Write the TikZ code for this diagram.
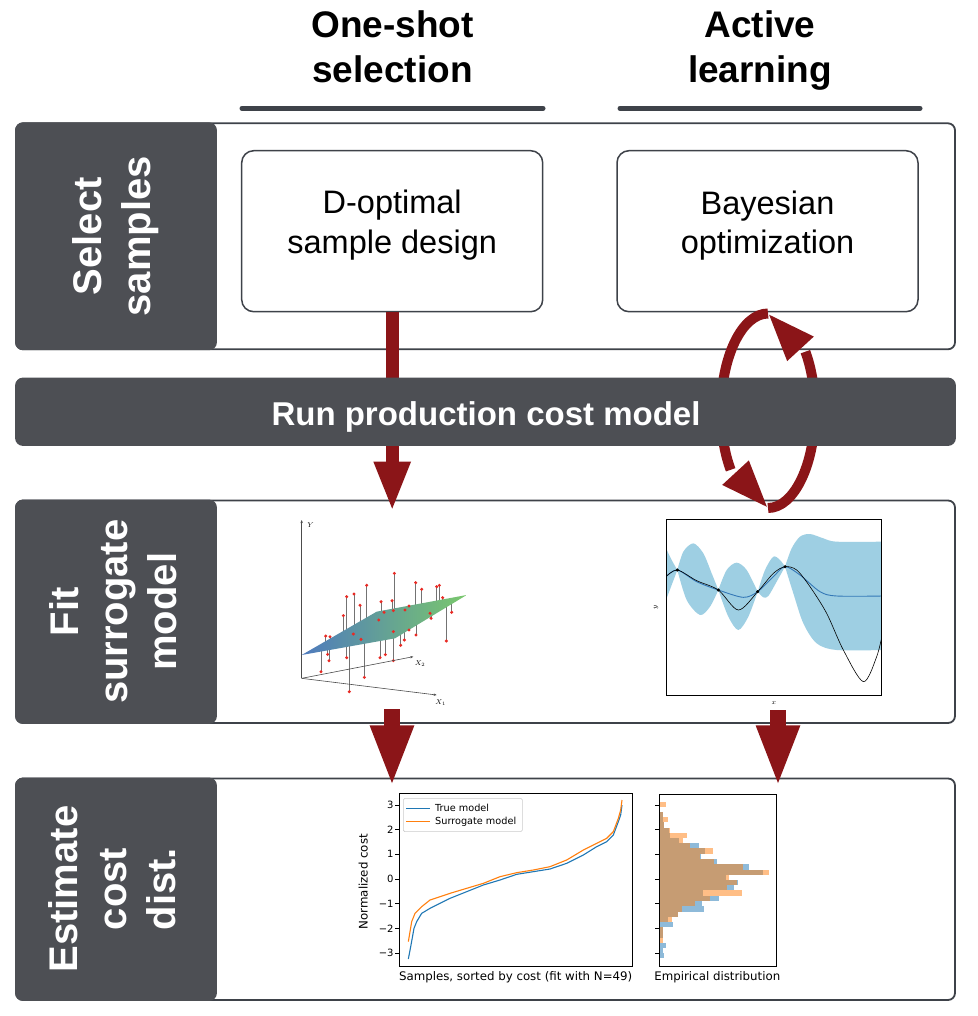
\documentclass[tikz,border=0pt]{standalone}
\usepackage{fontspec}
\setmainfont{Liberation Sans}
\newfontfamily\plotfont{DejaVu Sans}
\usetikzlibrary{arrows.meta,bending}
\definecolor{tagfill}{RGB}{77,79,84}
\definecolor{framegray}{RGB}{62,66,73}
\definecolor{flowred}{RGB}{139,21,24}
\definecolor{bandblue}{RGB}{158,207,227}
\definecolor{meanblue}{RGB}{52,120,183}
\definecolor{mplblue}{RGB}{31,119,180}
\definecolor{mplorange}{RGB}{255,127,14}
\definecolor{dotred}{RGB}{232,42,36}
\definecolor{planeblue}{RGB}{78,122,190}
\definecolor{planegreen}{RGB}{122,200,108}
\begin{document}
\begin{tikzpicture}[x=1pt,y=-1pt,
  rowframe/.style={draw=framegray,line width=1.8pt,fill=white,rounded corners=7pt},
  rowtag/.style={draw=tagfill,fill=tagfill,line width=1.8pt,rounded corners=7pt},
  tagtext/.style={text=white,font=\fontsize{40}{49}\selectfont\bfseries,rotate=90,align=center,inner sep=0pt},
  methodbox/.style={draw=framegray,line width=1.5pt,fill=white,rounded corners=12pt,minimum width=301pt,minimum height=161pt,inner sep=0pt},
  methodtext/.style={font=\fontsize{32.5}{39.5}\selectfont,align=center,inner sep=0pt},
  headtext/.style={font=\fontsize{37}{45}\selectfont\bfseries,align=center,inner sep=0pt},
  headrule/.style={draw=framegray,line width=5pt,line cap=round},
  flow/.style={draw=flowred,line width=#1},
  stem/.style={draw=black!55,line width=0.55pt},
  axis3d/.style={draw=black!70,line width=0.6pt,-{Stealth[length=3pt,width=2.4pt]}},
  mathlabel/.style={font=\fontsize{7.5}{9}\selectfont,inner sep=0pt},
  tickfont/.style={font=\plotfont\fontsize{10}{12}\selectfont,inner sep=1.5pt},
  axisfont/.style={font=\plotfont\fontsize{11.8}{14}\selectfont,inner sep=0pt},
  legendfont/.style={font=\plotfont\fontsize{9.7}{12}\selectfont,inner sep=0pt,anchor=west}]
\useasboundingbox (0,0) rectangle (977,1016);

% column headers
\node[headtext] (oneshot) at (392.5,47) {One-shot\\selection};
\node[headtext] (active) at (760,51) {Active\\learning};
\draw[headrule] (242,108.3) -- (543,108.3);
\draw[headrule] (620,108.3) -- (920,108.3);

% rows
\draw[rowframe] (16,123.3) rectangle (955,349.3);
\draw[rowtag] (16,123.3) rectangle (216,349.3);
\node[tagtext] (seltag) at (116,236.3) {Select\\samples};
\draw[rowframe] (16,500.5) rectangle (955,723);
\draw[rowtag] (16,500.5) rectangle (216,723);
\node[tagtext] (fittag) at (113.5,611.7) {Fit\\surrogate\\model};
\draw[rowframe] (16,778.5) rectangle (955,1000);
\draw[rowtag] (16,778.5) rectangle (216,1000);
\node[tagtext] (esttag) at (112,889) {Estimate\\cost\\dist.};

\node[methodbox] (dopt) at (392.2,231.2) {};
\node[methodtext] (dopttext) at (392.2,225.2) {D-optimal\\sample design};
\node[methodbox] (bayes) at (767.5,231.2) {};
\node[methodtext] (bayestext) at (767.5,225.4) {Bayesian\\optimization};

% regression plane
\begin{scope}[shift={(280,510)},scale=1/3]
\foreach \px/\py in {123/485,137/378,150/380,143/433,147/452,190/317,200/260,200/443,208/545,222/252,220/372,240/286,243/388,253/502,260/226,296/330,300/443,303/275,316/434,312/307,336/272,343/190,340/302,340/365,340/452,362/406,373/390,375/300,387/288,387/360,407/218,408/375,425/238,450/310,453/325,470/230,478/226,488/263,499/393,515/307}{
  \draw[stem] (\px,\py) -- (\px,{420-0.33*(\px-65)});}
\shade[left color=planeblue,right color=planegreen] (65,435) -- (290,305) -- (560,255) -- (345,385) -- cycle;
\foreach \px/\py in {123/485,137/378,150/380,143/433,147/452,190/317,200/260,200/443,208/545,222/252,220/372,240/286,243/388,253/502,260/226,296/330,300/443,303/275,316/434,312/307,336/272,343/190,340/302,340/365,340/452,362/406,373/390,375/300,387/288,387/360,407/218,408/375,425/238,450/310,453/325,470/230,478/226,488/263,499/393,515/307}{
  \fill[dotred] (\px,\py) circle[radius=5];}
\draw[axis3d] (65,505) -- (65,30);
\draw[axis3d] (65,505) -- (470,555);
\draw[axis3d] (65,505) -- (400,440);
\node[mathlabel] (ylab) at (92,45) {$Y$};
\node[mathlabel] (xtwolab) at (420,462) {$X_2$};
\node[mathlabel] (xonelab) at (482,578) {$X_1$};
\end{scope}

% gaussian process
\begin{scope}[shift={(650,510)},scale=1/3]
\begin{scope}
\clip (48,28) rectangle (695,557);
\fill[bandblue] plot[smooth] coordinates {(48,115) (65,150) (82,180)}
  -- plot[smooth] coordinates {(82,180) (100,125) (130,100) (160,130) (185,190) (205,240)}
  -- plot[smooth] coordinates {(205,240) (230,180) (260,158) (290,180) (323,245)}
  -- plot[smooth] coordinates {(323,245) (345,180) (370,140) (390,150) (405,170)}
  -- plot[smooth] coordinates {(405,170) (425,115) (450,80) (480,72) (520,85) (560,95) (700,95)}
  -- (700,420)
  -- plot[smooth] coordinates {(700,420) (560,420) (500,400) (460,340) (430,250) (405,170)}
  -- plot[smooth] coordinates {(405,170) (380,215) (355,258) (340,262) (323,245)}
  -- plot[smooth] coordinates {(323,245) (295,320) (265,360) (235,320) (205,240)}
  -- plot[smooth] coordinates {(205,240) (180,290) (150,315) (110,270) (82,180)}
  -- plot[smooth] coordinates {(82,180) (65,225) (48,270)} -- cycle;
\draw[meanblue,line width=0.9pt] plot[smooth] coordinates {(48,200) (82,180) (140,215) (205,240) (280,262) (323,245) (370,200) (405,170) (450,195) (510,245) (560,258) (700,258)};
\draw[black,line width=0.6pt] plot[smooth] coordinates {(48,200) (82,180) (140,212) (205,240) (265,300) (323,245) (370,190) (405,170) (440,180) (480,230) (530,310) (580,420) (640,515) (680,440) (700,360)};
\end{scope}
\foreach \px/\py in {82/180,205/240,323/245,405/170}{
  \fill[black] (\px,\py) circle[radius=5];}
\draw[black,line width=0.6pt] (48,28) rectangle (695,557);
\node[mathlabel,rotate=90] (gpylab) at (18,293) {$y$};
\node[mathlabel] (gpxlab) at (372,578) {$x$};
\end{scope}

% sorted costs
\begin{scope}[shift={(350,785)},scale=1/3]
\draw[black,line width=0.6pt] (148,25) rectangle (848,545);
\foreach \ty/\lab in {60/3,133/2,208/1,282/0,356/−1,430/−2,505/−3}{
  \draw[black,line width=0.6pt] (148,\ty) -- (136,\ty) node[tickfont,left] (tick\ty) {\lab};}
\draw[mplblue,line width=1.1pt] plot coordinates {(175,522) (183,480) (192,430) (200,410) (215,385) (240,370) (270,355) (300,340) (350,320) (400,300) (450,285) (500,268) (550,260) (600,252) (650,235) (700,210) (740,185) (770,170) (790,150) (805,110) (812,90) (816,60)};
\draw[mplorange,line width=1.1pt] plot coordinates {(175,470) (180,440) (185,410) (195,385) (215,365) (240,345) (270,335) (300,325) (350,310) (400,295) (450,275) (500,263) (550,255) (600,245) (650,225) (700,195) (740,175) (770,160) (790,140) (805,100) (812,75) (816,45)};
\draw[black!20,fill=white,line width=0.6pt,rounded corners=1.5pt] (160,40) rectangle (517,140);
\draw[mplblue,line width=1.3pt] (168,70) -- (240,70);
\node[legendfont] (truelab) at (255,70) {True model};
\draw[mplorange,line width=1.3pt] (168,110) -- (240,110);
\node[legendfont] (surrlab) at (255,110) {Surrogate model};
\node[axisfont,rotate=90] (costlab) at (40,290) {Normalized cost};
\node[axisfont] (samplab) at (497,578) {Samples, sorted by cost (fit with N=49)};
\end{scope}

% histogram
\begin{scope}[shift={(640,785)},scale=1/3]
\foreach \ya/\yb/\wb/\wo in {50/65/58/78,80/96/68/70,96/112/70/83,112/128/72/72,128/144/88/90,144/160/90/140,160/175/118/130,175/190/178/150,190/207/195/218,207/222/183/180,222/238/232/222,238/255/328/310,255/270/370/388,270/285/258/268,285/300/293/292,300/316/283/262,316/332/190/305,332/348/238/210,348/363/185/165,363/380/193/125,380/395/115/115,395/410/85/97,410/427/98/60,427/443/70/70,443/458/68/68,458/473/58/68,473/490/78/58,490/505/68/58,505/520/72/58}{
  \fill[mplblue,opacity=0.5] (58,\ya) rectangle (\wb,\yb);
  \fill[mplorange,opacity=0.5] (58,\ya) rectangle (\wo,\yb);}
\draw[black,line width=0.6pt] (58,28) rectangle (408,545);
\foreach \ty in {60,132,208,282,355,430,505}{
  \draw[black,line width=0.6pt] (58,\ty) -- (46,\ty);}
\node[axisfont] (histlab) at (232,578) {Empirical distribution};
\end{scope}

% flow arrows
\coordinate (fittop) at (392.2,511.7);
\coordinate (fitbot) at (392,709);
\coordinate (esttopL) at (392,787.3);
\coordinate (gpbot) at (778,710);
\coordinate (esttopR) at (778,787.3);
\coordinate (looptop) at (768,313.5);
\coordinate (loopbot) at (768,508);
\draw[flow=13.3pt,-{Triangle[length=50pt,width=33.3pt]}] (dopt.south) -- (fittop);
\draw[flow=16pt,-{Triangle[length=62pt,width=39.3pt]}] (fitbot) -- (esttopL);
\draw[flow=16pt,-{Triangle[length=62pt,width=39.3pt]}] (gpbot) -- (esttopR);
\draw[flow=10pt,-{Triangle[length=48pt,width=33pt]}] (looptop) .. controls (742,313.5) and (721,357) .. (721,410.75) .. controls (721,464.5) and (742,508) .. (loopbot);
\draw[flow=10pt,-{Triangle[length=48pt,width=33pt]}] (loopbot) .. controls (794,508) and (815,464.5) .. (815,410.75) .. controls (815,357) and (794,313.5) .. (looptop);

% model run bar
\draw[rowtag] (16,378.5) rectangle (955,445);
\node[text=white,font=\fontsize{33}{40}\selectfont\bfseries,inner sep=0pt] (runtext) at (486,417) {Run production cost model};
\end{tikzpicture}
\end{document}
